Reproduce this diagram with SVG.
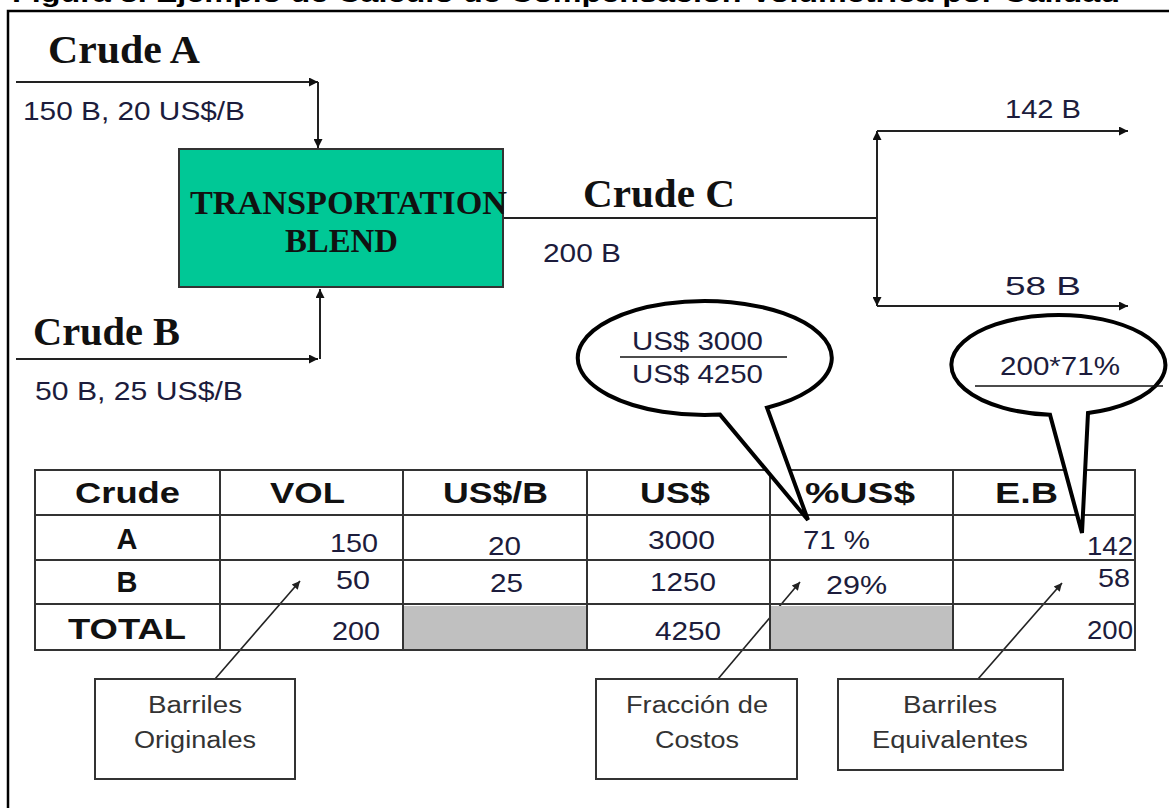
<svg xmlns="http://www.w3.org/2000/svg" width="1169" height="808" viewBox="0 0 1169 808">
<defs>
<marker id="ah" viewBox="0 0 10 10" refX="10" refY="5" markerWidth="11" markerHeight="9" markerUnits="userSpaceOnUse" orient="auto">
<path d="M0,0 L10,5 L0,10 z" fill="#111"/>
</marker>
<marker id="ahs" viewBox="0 0 10 10" refX="10" refY="5" markerWidth="11" markerHeight="8" markerUnits="userSpaceOnUse" orient="auto">
<path d="M0,0 L10,5 L0,10 z" fill="#222"/>
</marker>
</defs>
<style>
.serif{font-family:"Liberation Serif","Times New Roman",serif;font-weight:bold;fill:#111}
.sans{font-family:"Liberation Sans",Arial,sans-serif;font-size:26px;fill:#1c1c3c}
.hdr{font-family:"Liberation Sans",Arial,sans-serif;font-weight:bold;font-size:29px;fill:#111}
.note{font-family:"Liberation Sans",Arial,sans-serif;font-size:23px;fill:#333}
.flow{stroke:#222;stroke-width:2;fill:none}
.call{stroke:#222;stroke-width:1.6;fill:none}
.grid{stroke:#333;stroke-width:2;fill:none}
.bubble{fill:#fff;stroke:#000;stroke-width:4;stroke-linejoin:miter}
.box{fill:#fff;stroke:#333;stroke-width:2}
</style>
<rect width="1169" height="808" fill="#fff"/>
<text x="12" y="1.5" font-family="Liberation Sans, Arial, sans-serif" font-weight="bold" font-size="26" fill="#000" textLength="1108" lengthAdjust="spacingAndGlyphs">Figura 3. Ejemplo de Cálculo de Compensación Volumétrica por Calidad</text>
<rect x="8" y="11" width="1180" height="820" fill="none" stroke="#000" stroke-width="2.5"/>

<g id="connectors">
<path class="flow" d="M16,82 H318" marker-end="url(#ah)"/>
<path class="flow" d="M318,82 V148" marker-end="url(#ah)"/>
<path class="flow" d="M16,359 H318" marker-end="url(#ah)"/>
<path class="flow" d="M320,359 V289" marker-end="url(#ah)"/>
<path class="flow" d="M503,218 H877"/>
<path class="flow" d="M877,218 V131" marker-end="url(#ah)"/>
<path class="flow" d="M877,218 V306" marker-end="url(#ah)"/>
<path class="flow" d="M877,131 H1128" marker-end="url(#ah)"/>
<path class="flow" d="M877,306 H1128" marker-end="url(#ah)"/>
<path class="call" d="M215,679 L300,581" marker-end="url(#ahs)"/>
<path class="call" d="M718,679 L800,582" marker-end="url(#ahs)"/>
<path class="call" d="M978,679 L1062,583" marker-end="url(#ahs)"/>
</g>

<g id="crudeA">
<text class="serif" x="48" y="63" font-size="39" textLength="152" lengthAdjust="spacingAndGlyphs">Crude A</text>
<text class="sans" x="23" y="120" textLength="222" lengthAdjust="spacingAndGlyphs">150 B, 20 US$/B</text>
</g>
<g id="crudeB">
<text class="serif" x="33" y="345" font-size="39" textLength="147" lengthAdjust="spacingAndGlyphs">Crude B</text>
<text class="sans" x="35" y="400" textLength="208" lengthAdjust="spacingAndGlyphs">50 B, 25 US$/B</text>
</g>
<g id="blend">
<rect x="179" y="149" width="324" height="138" fill="#00c896" stroke="#333" stroke-width="2"/>
<text class="serif" x="190" y="214" font-size="33" textLength="317" lengthAdjust="spacingAndGlyphs">TRANSPORTATION</text>
<text class="serif" x="285" y="252" font-size="33" textLength="113" lengthAdjust="spacingAndGlyphs">BLEND</text>
</g>
<g id="crudeC">
<text class="serif" x="583" y="207" font-size="39" textLength="152" lengthAdjust="spacingAndGlyphs">Crude C</text>
<text class="sans" x="543" y="262" textLength="78" lengthAdjust="spacingAndGlyphs">200 B</text>
</g>
<g id="out142">
<text class="sans" x="1005" y="118" textLength="76" lengthAdjust="spacingAndGlyphs">142 B</text>
</g>
<g id="out58">
<text class="sans" x="1005" y="295" textLength="76" lengthAdjust="spacingAndGlyphs">58 B</text>
</g>

<g id="table">
<rect x="403" y="606" width="184" height="44" fill="#c0c0c0"/>
<rect x="770" y="606" width="183" height="44" fill="#c0c0c0"/>
<rect class="grid" x="35" y="470" width="1100" height="180"/>
<line class="grid" x1="35" y1="515" x2="1135" y2="515"/>
<line class="grid" x1="35" y1="560" x2="1135" y2="560"/>
<line class="grid" x1="35" y1="604" x2="1135" y2="604" stroke-width="3.5" stroke="#111"/>
<line class="grid" x1="220" y1="470" x2="220" y2="650"/>
<line class="grid" x1="403" y1="470" x2="403" y2="650"/>
<line class="grid" x1="587" y1="470" x2="587" y2="650"/>
<line class="grid" x1="770" y1="470" x2="770" y2="650"/>
<line class="grid" x1="953" y1="470" x2="953" y2="650"/>
<text class="hdr" x="75" y="503" textLength="105" lengthAdjust="spacingAndGlyphs">Crude</text>
<text class="hdr" x="270" y="503" textLength="75" lengthAdjust="spacingAndGlyphs">VOL</text>
<text class="hdr" x="443" y="503" textLength="105" lengthAdjust="spacingAndGlyphs">US$/B</text>
<text class="hdr" x="640" y="503" textLength="70" lengthAdjust="spacingAndGlyphs">US$</text>
<text class="hdr" x="805" y="503" textLength="110" lengthAdjust="spacingAndGlyphs">%US$</text>
<text class="hdr" x="995" y="503" textLength="63" lengthAdjust="spacingAndGlyphs">E.B</text>
<text class="hdr" x="127" y="549" text-anchor="middle">A</text>
<text class="hdr" x="127" y="592" text-anchor="middle">B</text>
<text class="hdr" x="68" y="639" textLength="118" lengthAdjust="spacingAndGlyphs">TOTAL</text>
<text class="sans" x="330" y="552" textLength="48" lengthAdjust="spacingAndGlyphs">150</text>
<text class="sans" x="488" y="555" textLength="33" lengthAdjust="spacingAndGlyphs">20</text>
<text class="sans" x="648" y="549" textLength="67" lengthAdjust="spacingAndGlyphs">3000</text>
<text class="sans" x="803" y="549" textLength="67" lengthAdjust="spacingAndGlyphs">71 %</text>
<text class="sans" x="1087" y="555" textLength="46" lengthAdjust="spacingAndGlyphs">142</text>
<text class="sans" x="336" y="589" textLength="34" lengthAdjust="spacingAndGlyphs">50</text>
<text class="sans" x="490" y="592" textLength="33" lengthAdjust="spacingAndGlyphs">25</text>
<text class="sans" x="650" y="591" textLength="66" lengthAdjust="spacingAndGlyphs">1250</text>
<text class="sans" x="826" y="594" textLength="61" lengthAdjust="spacingAndGlyphs">29%</text>
<text class="sans" x="1098" y="587" textLength="32" lengthAdjust="spacingAndGlyphs">58</text>
<text class="sans" x="332" y="640" textLength="48" lengthAdjust="spacingAndGlyphs">200</text>
<text class="sans" x="655" y="640" textLength="66" lengthAdjust="spacingAndGlyphs">4250</text>
<text class="sans" x="1087" y="639" textLength="46" lengthAdjust="spacingAndGlyphs">200</text>
</g>

<g id="bubble1">
<path class="bubble" d="M720,414.6 A127,57 0 1,1 767,407.7 L808,520 Z"/>
<text class="sans" x="632" y="350" textLength="131" lengthAdjust="spacingAndGlyphs">US$ 3000</text>
<line x1="620" y1="357" x2="787" y2="357" stroke="#111" stroke-width="1.6"/>
<text class="sans" x="632" y="383" textLength="131" lengthAdjust="spacingAndGlyphs">US$ 4250</text>
</g>
<g id="bubble2">
<path class="bubble" d="M1050,414.8 A107,50 0 1,1 1088,413 L1082,533 Z"/>
<text class="sans" x="1000" y="375" textLength="120" lengthAdjust="spacingAndGlyphs">200*71%</text>
<line x1="975" y1="386" x2="1163" y2="386" stroke="#111" stroke-width="1.6"/>
</g>

<g id="noteOriginales">
<rect class="box" x="95" y="679" width="200" height="100"/>
<text class="note" x="195" y="713" text-anchor="middle" textLength="94" lengthAdjust="spacingAndGlyphs">Barriles</text>
<text class="note" x="195" y="748" text-anchor="middle" textLength="122" lengthAdjust="spacingAndGlyphs">Originales</text>
</g>
<g id="noteCostos">
<rect class="box" x="596" y="679" width="201" height="100"/>
<text class="note" x="697" y="713" text-anchor="middle" textLength="142" lengthAdjust="spacingAndGlyphs">Fracción de</text>
<text class="note" x="697" y="748" text-anchor="middle" textLength="84" lengthAdjust="spacingAndGlyphs">Costos</text>
</g>
<g id="noteEquivalentes">
<rect class="box" x="838" y="679" width="225" height="91"/>
<text class="note" x="950" y="713" text-anchor="middle" textLength="94" lengthAdjust="spacingAndGlyphs">Barriles</text>
<text class="note" x="950" y="748" text-anchor="middle" textLength="156" lengthAdjust="spacingAndGlyphs">Equivalentes</text>
</g>
</svg>
